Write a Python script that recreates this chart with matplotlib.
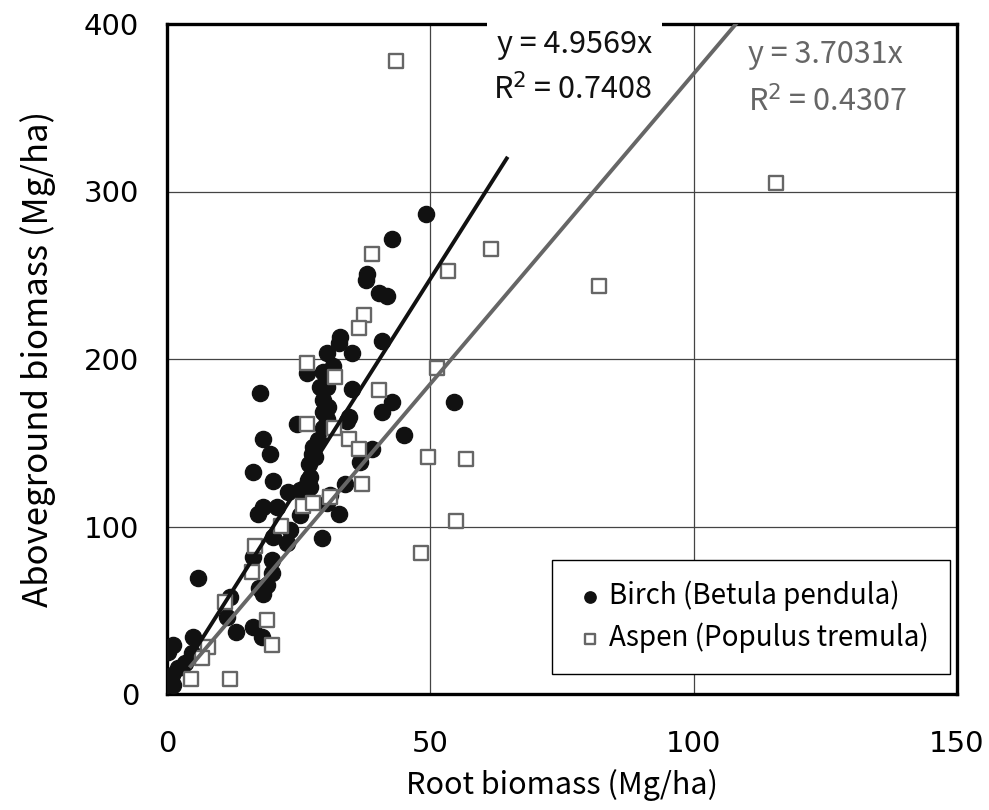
import numpy as np
import matplotlib
matplotlib.use('Agg')
import matplotlib.pyplot as plt

plt.rcParams['font.family'] = ['Noto Sans CJK JP', 'DejaVu Sans']

# Birch (Betula pendula): root biomass vs aboveground biomass (Mg/ha)
birch_x = [49.2, 42.7, 37.9, 37.8, 40.3, 41.7, 40.8, 32.8, 32.7, 30.4,
           35.1, 26.6, 31.6, 29.7, 30.3, 35.1, 29.7, 42.7, 54.4, 40.8,
           30.6, 29.7, 34.6, 30.3, 34.1, 24.6, 29.7, 45.0, 28.7, 27.8,
           38.9, 18.2, 27.5, 19.6, 36.6, 27.0, 16.3, 20.1, 27.2, 33.8,
           23.0, 25.3, 27.2, 30.9, 30.3, 18.3, 17.3, 20.9, 25.3, 32.7,
           23.4, 20.1, 29.4, 22.7, 16.4, 19.9, 5.9, 19.9, 18.9, 18.3,
           17.4, 12.0, 11.3, 13.1, 16.4, 18.0, 1.2, 0.1, 5.0, 4.7,
           3.4, 2.1, 0.9, 0.4, 1.2, 17.7, 26.8, 28.1, 29.0, 30.0]
birch_y = [286.6, 271.6, 251.0, 247.0, 239.2, 237.8, 210.9, 213.0, 209.7, 203.8,
           203.8, 191.8, 195.8, 192.4, 183.5, 181.9, 175.5, 174.3, 174.1, 168.2,
           171.5, 168.6, 165.5, 164.4, 162.8, 161.1, 158.6, 154.8, 151.6, 147.6,
           146.5, 152.0, 143.5, 143.1, 138.7, 137.5, 132.7, 126.9, 129.8, 125.2,
           120.8, 121.8, 123.8, 118.8, 113.8, 111.8, 107.5, 111.8, 106.9, 107.5,
           97.9, 93.5, 92.9, 89.9, 82.0, 80.0, 69.1, 72.0, 65.1, 60.0,
           63.0, 58.1, 46.2, 37.2, 40.2, 33.8, 29.3, 25.3, 33.8, 24.3,
           18.3, 15.3, 11.3, 8.8, 5.4, 179.7, 127.8, 141.7, 183.5, 167.5]

# Aspen (Populus tremula)
aspen_x = [43.4, 115.7, 82.0, 61.5, 53.4, 38.9, 37.4, 36.5, 26.6, 31.9,
           51.2, 40.3, 34.6, 36.5, 49.6, 56.8, 26.6, 31.8, 37.0, 30.9,
           25.9, 27.8, 54.9, 48.3, 21.6, 16.7, 16.1, 11.0, 19.0, 20.0,
           7.8, 6.6, 4.5, 12.0]
aspen_y = [378.0, 305.0, 243.3, 265.7, 252.5, 262.9, 226.3, 218.5, 197.8, 189.0,
           194.8, 181.7, 152.0, 146.1, 141.7, 140.1, 161.0, 158.9, 125.2, 117.8,
           112.2, 113.8, 103.1, 84.0, 100.3, 88.4, 73.0, 55.1, 44.2, 29.3,
           27.9, 21.3, 8.8, 8.8]

# trendlines through the origin (Excel)
birch_slope, birch_r2 = 4.9569, 0.7408
aspen_slope, aspen_r2 = 3.7031, 0.4307
birch_fit_range = [0.1, 64.5]
aspen_fit_range = [4.5, 115.7]

xticks = [0, 50, 100, 150]
yticks = [0, 100, 200, 300, 400]

fig = plt.figure(figsize=(9.89, 8.10), dpi=100)
ax = fig.add_axes([167 / 989, 1 - 694 / 810, 790 / 989, 670 / 810])

ax.scatter(birch_x, birch_y, s=135, marker='o', color='#111111', zorder=3,
           label='Birch (Betula pendula)')
ax.scatter(aspen_x, aspen_y, s=95, marker='s', facecolor='white',
           edgecolor='#666666', linewidths=1.7, zorder=4,
           label='Aspen (Populus tremula)')

bx = np.array(birch_fit_range)
ax.plot(bx, birch_slope * bx, color='#111111', linewidth=2.8, zorder=5)
axx = np.array(aspen_fit_range)
ax.plot(axx, aspen_slope * axx, color='#666666', linewidth=2.8, zorder=5)

ax.set_xlim(0, 150)
ax.set_ylim(0, 400)
ax.set_xticks(xticks)
ax.set_yticks(yticks)
ax.grid(True, color='#444444', linewidth=0.9)
ax.set_axisbelow(True)
for sp in ax.spines.values():
    sp.set_linewidth(2.4)
    sp.set_color('black')
ax.tick_params(length=0, labelsize=21, pad=20)
ax.tick_params(axis='x', pad=26)
for lab in ax.get_xticklabels() + ax.get_yticklabels():
    lab.set_family(['DejaVu Sans'])

ax.set_xlabel('Root biomass (Mg/ha)', fontsize=22, labelpad=8)
ax.set_ylabel('Aboveground biomass (Mg/ha)', fontsize=25, labelpad=20)

# equation labels (white boxes, like Excel)
eq_font = ['Liberation Sans Narrow', 'Noto Sans CJK JP', 'DejaVu Sans']
box = dict(facecolor='white', edgecolor='none', pad=7)
ax.text(92.1, 387.5, 'y = %.4fx' % birch_slope, ha='right', va='center',
        fontsize=22, color='#111111', family=eq_font, bbox=box,
        zorder=10, clip_on=False)
ax.text(92.1, 360.6, 'R$^2$ = %.4f' % birch_r2, ha='right', va='center',
        fontsize=22, color='#111111', family=eq_font,
        bbox=dict(facecolor='white', edgecolor='none', pad=1),
        zorder=10, clip_on=False)
ax.text(110.3, 381.5, 'y = %.4fx' % aspen_slope, ha='left', va='center',
        fontsize=22, color='#666666', family=eq_font,
        bbox=dict(facecolor='white', edgecolor='none', pad=1),
        zorder=10, clip_on=False)
ax.text(110.3, 353.4, 'R$^2$ = %.4f' % aspen_r2, ha='left', va='center',
        fontsize=22, color='#666666', family=eq_font,
        bbox=dict(facecolor='white', edgecolor='none', pad=1),
        zorder=10, clip_on=False)

leg = ax.legend(loc='lower right', bbox_to_anchor=(0.991, 0.03),
                borderaxespad=0, fontsize=20, markerscale=0.7,
                handletextpad=0.1, handlelength=1.2, borderpad=0.75,
                labelspacing=0.4, fancybox=False, framealpha=1,
                edgecolor='black')
leg.get_frame().set_linewidth(1.0)

fig.savefig('out.png', dpi=100)
